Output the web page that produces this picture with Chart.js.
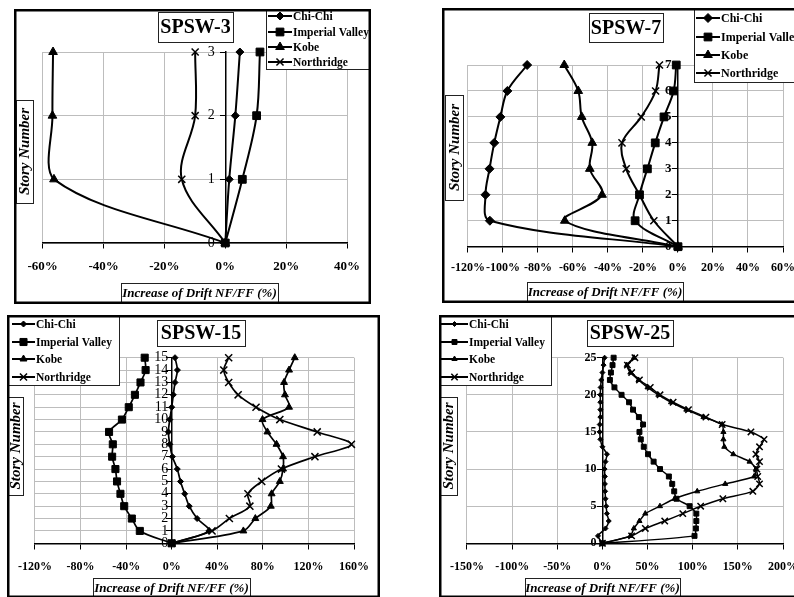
<!DOCTYPE html>
<html>
<head>
<meta charset="utf-8">
<script src="https://cdn.jsdelivr.net/npm/chart.js@4.4.1/dist/chart.umd.min.js"></script>
<style>
html, body { margin: 0; padding: 0; background: #fff; width: 794px; height: 597px; overflow: hidden; }
.panel { position: absolute; }
</style>
</head>
<body>
<div class="panel" style="left:14px;top:9px;width:357px;height:295px"><canvas id="spsw3"></canvas></div>
<div class="panel" style="left:442px;top:8px;width:362px;height:295px"><canvas id="spsw7"></canvas></div>
<div class="panel" style="left:7px;top:315px;width:373px;height:283px"><canvas id="spsw15"></canvas></div>
<div class="panel" style="left:439px;top:315px;width:370px;height:283px"><canvas id="spsw25"></canvas></div>
<script>
// series names + marker for each
const seriesNames = ['Chi-Chi', 'Imperial Valley', 'Kobe', 'Northridge'];
const markers = ['rectRot', 'rect', 'triangle', 'crossRot'];

// SPSW-3
const spsw3Stories = [0, 1, 2, 3];
const spsw3ChiChi = [0, 1.3, 3.3, 4.8];
const spsw3ImpValley = [0, 5.6, 10.3, 11.4];
const spsw3Kobe = [0, -56.3, -56.8, -56.6];
const spsw3Northridge = [0, -14.3, -9.9, -9.9];
const spsw3XTicks = [-60, 40, 20];

// SPSW-7
const spsw7Stories = [0, 1, 2, 3, 4, 5, 6, 7];
const spsw7ChiChi = [0, -107.5, -110, -107.7, -105, -101.5, -97.5, -86.2];
const spsw7ImpValley = [0, -24.5, -22, -17.5, -13, -8, -2.5, -1];
const spsw7Kobe = [0, -64.7, -43.4, -50.4, -49, -55, -57, -65];
const spsw7Northridge = [0, -13.8, -22, -29.6, -32, -21, -12.8, -10.6];
const spsw7XTicks = [-120, 60, 20];

// SPSW-15
const spsw15Stories = [0, 1, 2, 3, 4, 5, 6, 7, 8, 9, 10, 11, 12, 13, 14, 15];
const spsw15ChiChi = [0, 32.6, 22.3, 15.4, 11.4, 7.7, 4.9, 0.6, -1.7, -2.9, -1.7, 0, 1.4, 2.9, 5, 2.9];
const spsw15ImpValley = [0, -28, -35, -41.7, -45, -48, -49.4, -52.3, -51.7, -55, -43.7, -37.7, -32.3, -27.4, -22.9, -23.7];
const spsw15Kobe = [0, 62.9, 73.4, 87, 87.7, 94.9, 97.7, 97.7, 92, 84, 79.7, 103, 99.4, 98.6, 103, 108];
const spsw15Northridge = [0, 35.4, 50.6, 68.6, 66.9, 79, 96.3, 125.7, 157.7, 127.7, 94.9, 74, 58.3, 50, 45.7, 50];
const spsw15XTicks = [-120, 160, 40];

// SPSW-25
const spsw25Stories = [0, 1, 2, 3, 4, 5, 6, 7, 8, 9, 10, 11, 12, 13, 14, 15, 16, 17, 18, 19, 20, 21, 22, 23, 24, 25];
const spsw25ChiChi = [0, -4.9, 3.4, 7, 4.9, 4.2, 3.4, 3, 2.7, 2.7, 2.4, 3.4, 5, 0, -2.3, -3, -3, -2.3, -2.3, -2.3, -2.3, -2, -1.3, 0, 1.3, 2.4];
const spsw25ImpValley = [0, 102, 103.5, 104, 104, 96.6, 82, 79.5, 77.3, 73.6, 63.8, 56.7, 50.5, 45.8, 42.5, 41, 45, 40.4, 33.9, 29.5, 21.2, 13.3, 8.3, 9.4, 11.2, 12.4];
const spsw25Kobe = [0, 31, 34.8, 41, 47.5, 63.7, 80, 105, 136, 168, 170, 163, 145, 135, 134, 134, 132.6, 112, 93, 76, 62, 50, 40, 31, 27, 35];
const spsw25Northridge = [0, 32.3, 47.5, 69, 89, 108.8, 133.4, 166.6, 174, 172, 171, 174, 170, 174, 179, 164.5, 132.6, 114.6, 95.3, 78.3, 63.8, 53, 41, 32.4, 27.7, 36];
const spsw25XTicks = [-150, 200, 50];

Chart.defaults.font.family = "'Liberation Serif', 'DejaVu Serif', serif";
Chart.defaults.color = '#000';
Chart.defaults.animation = false;

function toPoints(xs, ys) {
    return xs.map((v, i) => ({ x: v, y: ys[i] }));
}

// draws frame, title box, legend box and the two axis title boxes
const decorations = {
    id: 'decorations',
    afterDraw(chart, args, o) {
        const ctx = chart.ctx;
        const ox = o.origin[0], oy = o.origin[1];
        ctx.save();
        ctx.fillStyle = '#000';
        ctx.strokeStyle = '#000';

        function box(b, lw) {
            ctx.fillStyle = '#fff';
            ctx.fillRect(b[0] - ox, b[1] - oy, b[2] - b[0], b[3] - b[1]);
            ctx.lineWidth = lw;
            ctx.strokeStyle = '#222';
            ctx.strokeRect(b[0] - ox + 0.5, b[1] - oy + 0.5, b[2] - b[0], b[3] - b[1]);
            ctx.fillStyle = '#000';
        }

        // title
        box(o.titleBox, 1);
        ctx.font = 'bold ' + o.titleSize + "px 'Liberation Serif'";
        ctx.textAlign = 'center';
        ctx.textBaseline = 'middle';
        ctx.fillText(o.title, (o.titleBox[0] + o.titleBox[2]) / 2 - ox, (o.titleBox[1] + o.titleBox[3]) / 2 - oy + 1);

        // legend
        box(o.legendBox, 1);
        ctx.font = 'bold ' + o.legendSize + "px 'Liberation Serif'";
        ctx.textAlign = 'left';
        chart.data.datasets.forEach((ds, i) => {
            const y = o.legendRows[i] - oy;
            const x1 = o.legendLine[0] - ox, x2 = o.legendLine[1] - ox;
            ctx.strokeStyle = '#000';
            ctx.lineWidth = 2;
            ctx.beginPath();
            ctx.moveTo(x1, y);
            ctx.lineTo(x2, y);
            ctx.stroke();
            ctx.lineWidth = ds.pointBorderWidth;
            ctx.fillStyle = '#000';
            Chart.helpers.drawPoint(ctx, {
                pointStyle: ds.pointStyle, radius: ds.pointRadius,
                borderWidth: ds.pointBorderWidth, rotation: 0
            }, (x1 + x2) / 2, y);
            ctx.fillText(ds.label, x2 + 1, y + 1);
        });

        // y title
        box(o.yTitleBox, 1);
        ctx.save();
        ctx.translate((o.yTitleBox[0] + o.yTitleBox[2]) / 2 - ox + 1, (o.yTitleBox[1] + o.yTitleBox[3]) / 2 - oy);
        ctx.rotate(-Math.PI / 2);
        ctx.font = 'italic bold ' + o.yTitleSize + "px 'Liberation Serif'";
        ctx.textAlign = 'center';
        ctx.fillText('Story Number', 0, 0);
        ctx.restore();

        // x title
        box(o.xTitleBox, 1);
        ctx.font = "italic bold 13px 'Liberation Serif'";
        ctx.textAlign = 'center';
        ctx.fillText('Increase of Drift NF/FF (%)', (o.xTitleBox[0] + o.xTitleBox[2]) / 2 - ox, (o.xTitleBox[1] + o.xTitleBox[3]) / 2 - oy + 1);

        // panel frame
        ctx.lineWidth = 2.5;
        ctx.strokeStyle = '#000';
        ctx.strokeRect(1.25, 1.25, chart.width - 2.5, chart.height - 2.5);
        ctx.restore();
    }
};

function makeChart(id, cfg) {
    const datasets = cfg.series.map((xs, i) => ({
        label: seriesNames[i],
        data: toPoints(xs, cfg.stories),
        showLine: true,
        borderColor: '#000',
        backgroundColor: '#000',
        borderWidth: cfg.lineWidth,
        pointStyle: markers[i],
        pointRadius: cfg.radii[i],
        pointBorderColor: '#000',
        pointBackgroundColor: '#000',
        pointBorderWidth: i === 3 ? 1.5 : 1,
        tension: cfg.tension,
        clip: false
    }));
    // the y axis sits on x = 0; trailing spaces keep its labels off the axis line
    const yPad = ' '.repeat(cfg.yLabelGap);
    return new Chart(document.getElementById(id), {
        type: 'scatter',
        data: { datasets: datasets },
        options: {
            responsive: true,
            maintainAspectRatio: false,
            layout: { padding: cfg.padding },
            plugins: {
                legend: { display: false },
                tooltip: { enabled: false },
                decorations: cfg.deco
            },
            scales: {
                x: {
                    type: 'linear',
                    position: { y: 0 },
                    min: cfg.xTicks[0],
                    max: cfg.xTicks[1],
                    ticks: {
                        stepSize: cfg.xTicks[2],
                        autoSkip: false,
                        maxRotation: 0,
                        padding: cfg.xTickPad,
                        font: { size: cfg.xTickSize, weight: 'bold' },
                        callback: v => v + '%'
                    },
                    grid: { color: '#bdbdbd', tickColor: '#000', tickLength: 5 },
                    border: { color: '#000', width: 1.5 }
                },
                y: {
                    type: 'linear',
                    position: { x: 0 },
                    min: 0,
                    max: cfg.stories[cfg.stories.length - 1],
                    ticks: {
                        stepSize: cfg.yStep,
                        autoSkip: false,
                        font: { size: cfg.yTickSize, weight: cfg.yTickWeight },
                        callback: v => v + yPad
                    },
                    grid: { color: '#bdbdbd', tickColor: '#000', tickLength: 5 },
                    border: { color: '#000', width: 1.5 }
                }
            }
        },
        plugins: [decorations]
    });
}

makeChart('spsw3', {
    stories: spsw3Stories,
    series: [spsw3ChiChi, spsw3ImpValley, spsw3Kobe, spsw3Northridge],
    xTicks: spsw3XTicks, yStep: 1, yLabelGap: 3,
    radii: [4, 5.5, 5, 5], lineWidth: 2, tension: 0.35,
    padding: { left: 28.7, right: 23, top: 43, bottom: 61 },
    xTickPad: 11, xTickSize: 13, yTickSize: 14, yTickWeight: 'normal',
    deco: {
        origin: [14, 9], title: 'SPSW-3', titleSize: 20,
        titleBox: [158, 12, 233, 42],
        legendBox: [266, 9, 370, 69], legendRows: [16, 32, 47, 62], legendLine: [268, 292], legendSize: 11.5,
        yTitleBox: [16, 100, 33, 203], yTitleSize: 15,
        xTitleBox: [121, 283, 278, 303]
    }
});

makeChart('spsw7', {
    stories: spsw7Stories,
    series: [spsw7ChiChi, spsw7ImpValley, spsw7Kobe, spsw7Northridge],
    xTicks: spsw7XTicks, yStep: 1, yLabelGap: 2,
    radii: [4.5, 5.5, 5, 5], lineWidth: 2, tension: 0.35,
    padding: { left: 23.7, right: 20.7, top: 57, bottom: 56.3 },
    xTickPad: 9, xTickSize: 12, yTickSize: 13, yTickWeight: 'bold',
    deco: {
        origin: [442, 8], title: 'SPSW-7', titleSize: 20,
        titleBox: [589, 13, 663, 42],
        legendBox: [694, 8, 800, 82], legendRows: [18, 37, 55, 73], legendLine: [696, 720], legendSize: 12,
        yTitleBox: [445, 95, 463, 200], yTitleSize: 15,
        xTitleBox: [527, 282, 683, 302]
    }
});

makeChart('spsw15', {
    stories: spsw15Stories,
    series: [spsw15ChiChi, spsw15ImpValley, spsw15Kobe, spsw15Northridge],
    xTicks: spsw15XTicks, yStep: 1, yLabelGap: 1,
    radii: [3, 5, 4, 5], lineWidth: 1.7, tension: 0.3,
    padding: { left: 22.3, right: 24, top: 42.7, bottom: 54.7 },
    xTickPad: 11, xTickSize: 12, yTickSize: 14, yTickWeight: 'normal',
    deco: {
        origin: [7, 315], title: 'SPSW-15', titleSize: 20,
        titleBox: [157, 320, 245, 346],
        legendBox: [6, 315, 119, 385], legendRows: [324, 342, 359, 377], legendLine: [12, 35], legendSize: 11.5,
        yTitleBox: [7, 397, 23, 495], yTitleSize: 15,
        xTitleBox: [93, 578, 250, 598]
    }
});

makeChart('spsw25', {
    stories: spsw25Stories,
    series: [spsw25ChiChi, spsw25ImpValley, spsw25Kobe, spsw25Northridge],
    xTicks: spsw25XTicks, yStep: 5, yLabelGap: 2,
    radii: [2.5, 3.5, 3, 4.5], lineWidth: 1.5, tension: 0.2,
    padding: { left: 22.7, right: 25.7, top: 42.7, bottom: 54.7 },
    xTickPad: 11, xTickSize: 12, yTickSize: 12, yTickWeight: 'bold',
    deco: {
        origin: [439, 315], title: 'SPSW-25', titleSize: 20,
        titleBox: [587, 320, 673, 346],
        legendBox: [439, 315, 551, 385], legendRows: [324, 342, 359, 377], legendLine: [441, 468], legendSize: 11.5,
        yTitleBox: [440, 397, 457, 495], yTitleSize: 15,
        xTitleBox: [525, 578, 680, 598]
    }
});
</script>
</body>
</html>
